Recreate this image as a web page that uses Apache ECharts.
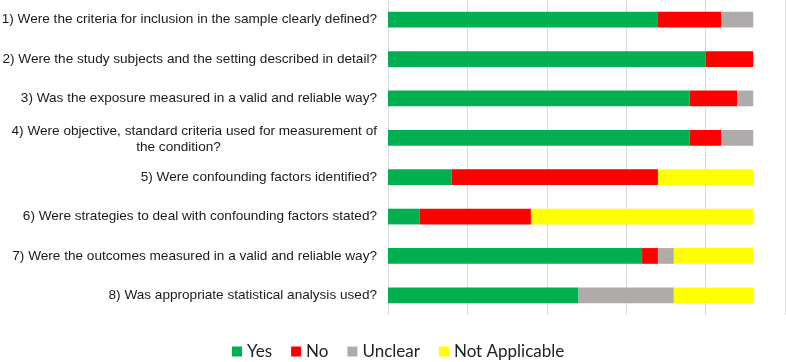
<!DOCTYPE html>
<html>
<head>
<meta charset="utf-8">
<style>
  html, body { margin: 0; padding: 0; background: #fff; }
  #chart { width: 786px; height: 362px; }
</style>
<script src="https://cdn.jsdelivr.net/npm/echarts@6/dist/echarts.min.js"></script>
</head>
<body>
<div id="chart"></div>
<script>
const categories = [
  "1) Were the criteria for inclusion in the sample clearly defined?",
  "2) Were the study subjects and the setting described in detail?",
  "3) Was the exposure measured in a valid and reliable way?",
  "4) Were objective, standard criteria used for measurement of\nthe condition?",
  "5) Were confounding factors identified?",
  "6) Were strategies to deal with confounding factors stated?",
  "7) Were the outcomes measured in a valid and reliable way?",
  "8) Was appropriate statistical analysis used?"
];
const seriesNames = ["Yes", "No", "Unclear", "Not Applicable"];
const yesValues     = [17, 20, 19, 19, 4, 2, 16, 12];
const noValues      = [4, 3, 3, 2, 13, 7, 1, 0];
const unclearValues = [2, 0, 1, 2, 0, 0, 1, 6];
const naValues      = [0, 0, 0, 0, 6, 14, 5, 5];
const xTicks = [0, 5, 10, 15, 20, 25];

const colors = ["#00B050", "#FF0000", "#AFABAB", "#FFFF00"];
const allValues = [yesValues, noValues, unclearValues, naValues];
const labelFont = { fontFamily: 'Liberation Sans', fontSize: 13.6, color: '#1a1a1a' };

const chart = echarts.init(document.getElementById('chart'), null, { renderer: 'canvas' });
chart.setOption({
  animation: false,
  color: colors,
  grid: { left: 388, right: 1, top: 0, height: 315, containLabel: false, outerBoundsMode: 'none' },
  legend: {
    data: seriesNames,
    left: 232,
    top: 343,
    padding: 0,
    icon: 'rect',
    itemWidth: 10,
    itemHeight: 10,
    itemGap: 19,
    textStyle: { fontFamily: 'Lato', fontSize: 17, color: '#222' }
  },
  xAxis: {
    type: 'value',
    min: xTicks[0],
    max: xTicks[xTicks.length - 1],
    interval: xTicks[1] - xTicks[0],
    axisLabel: { show: false },
    axisLine: { show: false },
    axisTick: { show: false },
    splitLine: { show: true, lineStyle: { color: '#D9D9D9', width: 1 } }
  },
  yAxis: {
    type: 'category',
    inverse: true,
    data: categories,
    axisLine: { show: false },
    axisTick: { show: false },
    axisLabel: Object.assign({
      margin: 11,
      formatter: function (v) {
        const parts = v.split('\n');
        if (parts.length === 1) return v;
        return '{a|' + parts[0] + '}\n{b|' + parts[1] + '}';
      },
      rich: {
        a: Object.assign({ lineHeight: 18, padding: [5, 0, 0, 0] }, labelFont),
        b: Object.assign({ lineHeight: 18, width: 397, align: 'center' }, labelFont)
      }
    }, labelFont)
  },
  series: seriesNames.map(function (name, i) {
    return {
      name: name,
      type: 'bar',
      stack: 'total',
      barCategoryGap: '60%',
      data: allValues[i],
      itemStyle: { color: colors[i] }
    };
  })
});
</script>
</body>
</html>
